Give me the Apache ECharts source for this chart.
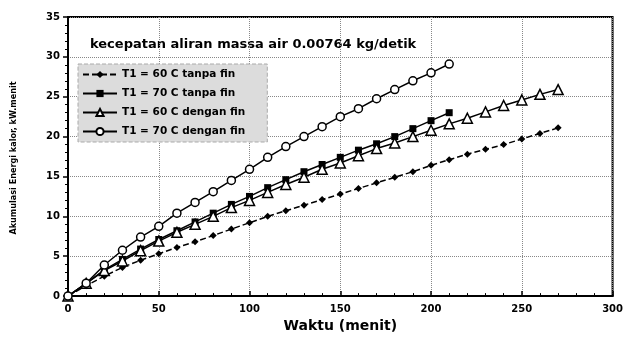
<!DOCTYPE html>
<html>
<head>
<meta charset="utf-8">
<script src="https://cdn.jsdelivr.net/npm/echarts@6/dist/echarts.min.js"></script>
<style>html,body{margin:0;padding:0;background:#fff;}#c{width:626px;height:338px;}</style>
</head>
<body>
<div id="c"></div>
<script>
const times = [0,10,20,30,40,50,60,70,80,90,100,110,120,130,140,150,160,170,180,190,200,210,220,230,240,250,260,270];
const s60tanpa = [0,1.3,2.5,3.6,4.5,5.3,6.1,6.8,7.6,8.4,9.2,10.0,10.7,11.4,12.1,12.8,13.5,14.2,14.9,15.6,16.4,17.1,17.8,18.4,19.0,19.7,20.4,21.1];
const s70tanpa = [0,1.6,3.3,4.6,5.9,7.1,8.2,9.3,10.4,11.5,12.5,13.6,14.6,15.6,16.5,17.4,18.3,19.1,20.0,21.0,22.0,23.0];
const s60dengan = [0,1.6,3.2,4.4,5.7,6.9,8.0,9.0,10.0,11.1,12.0,13.0,14.0,14.9,15.9,16.7,17.6,18.5,19.2,20.0,20.8,21.6,22.3,23.1,23.9,24.6,25.3,25.9];
const s70dengan = [0,1.6,3.9,5.75,7.4,8.75,10.4,11.75,13.1,14.5,15.9,17.4,18.75,20.0,21.25,22.5,23.5,24.75,25.9,27.0,28.0,29.1];
const seriesNames = ['T1 = 60 C tanpa fin','T1 = 70 C tanpa fin','T1 = 60 C dengan fin','T1 = 70 C dengan fin'];
const xTicks = [0,50,100,150,200,250,300];
const yTicks = [0,5,10,15,20,25,30,35];
const titleText = 'kecepatan aliran massa air 0.00764 kg/detik';
const xName = 'Waktu (menit)';
const yName = 'Akumulasi Energi kalor, kW.menit';

function pairs(vals){ return vals.map((v,i)=>[times[i], v]); }

const chart = echarts.init(document.getElementById('c'));
const axisLbl = {color:'#000', fontWeight:'bold', fontSize:10, fontFamily:'DejaVu Sans'};
chart.setOption({
  animation:false,
  backgroundColor:'#fff',
  grid:{left:68, right:12, top:17, bottom:41, show:true, borderColor:'#000', borderWidth:2},
  graphic:[
    {type:'text', left:90, top:38, style:{text:titleText, fill:'#000', font:'bold 13px "DejaVu Sans"'}},
    {type:'text', x:14, y:158, rotation:Math.PI/2,
     style:{text:yName, fill:'#000', font:'bold 9px "DejaVu Sans Condensed"', align:'center', verticalAlign:'middle'}}
  ],
  legend:{
    orient:'vertical', left:78, top:64, itemGap:8, itemWidth:34, itemHeight:9,
    padding:[5,22,5,4],
    backgroundColor:'#dcdcdc', borderColor:'#aaa', borderWidth:1, borderType:'dashed',
    textStyle:{color:'#000', fontWeight:'bold', fontSize:10.5, fontFamily:'DejaVu Sans'},
    data:seriesNames
  },
  xAxis:{
    type:'value', min:0, max:300, interval:50,
    name:xName, nameLocation:'middle', nameGap:22,
    nameTextStyle:{color:'#000', fontWeight:'bold', fontSize:14, fontFamily:'DejaVu Sans'},
    axisLine:{lineStyle:{color:'#000', width:2}},
    axisTick:{inside:true, length:5, lineStyle:{color:'#000', width:1.5}},
    minorTick:{show:true, splitNumber:5, length:3, lineStyle:{color:'#000'}},
    axisLabel:Object.assign({margin:8}, axisLbl),
    splitLine:{show:true, lineStyle:{color:'#888', type:'dotted', width:1}}
  },
  yAxis:{
    type:'value', min:0, max:35, interval:5,
    axisLine:{lineStyle:{color:'#000', width:2}},
    axisTick:{inside:false, length:5, lineStyle:{color:'#000', width:1.5}},
    minorTick:{show:true, splitNumber:5, length:3, lineStyle:{color:'#000'}},
    axisLabel:Object.assign({margin:8}, axisLbl),
    splitLine:{show:true, lineStyle:{color:'#888', type:'dotted', width:1}}
  },
  series:[
    {name:seriesNames[0], type:'line', data:pairs(s60tanpa), symbol:'diamond', symbolSize:7,
     lineStyle:{color:'#000', width:1.5, type:[6,3]}, itemStyle:{color:'#000'}},
    {name:seriesNames[1], type:'line', data:pairs(s70tanpa), symbol:'rect', symbolSize:7,
     lineStyle:{color:'#000', width:1.5}, itemStyle:{color:'#000'}},
    {name:seriesNames[2], type:'line', data:pairs(s60dengan), symbol:'triangle', symbolSize:10,
     lineStyle:{color:'#000', width:1.5}, itemStyle:{color:'#fff', borderColor:'#000', borderWidth:1.5}},
    {name:seriesNames[3], type:'line', data:pairs(s70dengan), symbol:'circle', symbolSize:8,
     lineStyle:{color:'#000', width:1.5}, itemStyle:{color:'#fff', borderColor:'#000', borderWidth:1.5}}
  ]
});
</script>
</body>
</html>
